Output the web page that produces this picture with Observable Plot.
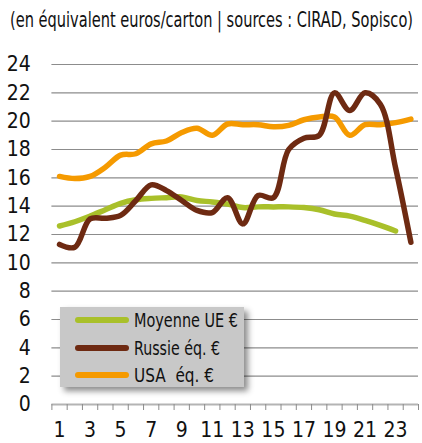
<!DOCTYPE html>
<html><head><meta charset="utf-8">
<script src="https://cdn.jsdelivr.net/npm/d3@7"></script>
<script src="https://cdn.jsdelivr.net/npm/@observablehq/plot@0.6"></script>
<style>
body{margin:0;background:#fff;font-family:"DejaVu Sans",sans-serif;font-stretch:condensed;}
#wrap{position:relative;width:422px;height:443px;overflow:hidden;}
#title{position:absolute;left:10px;top:0;height:40px;font-size:21px;line-height:40px;color:#111;white-space:nowrap;transform-origin:0 50%;}
#chart{position:absolute;left:0;top:40px;}
#chart text{font-stretch:condensed;}
#legend{position:absolute;left:60px;top:307px;width:184px;height:80px;background:#c8c8c8;box-shadow:4px 4px 6px rgba(0,0,0,0.45);}
.row{position:absolute;left:0;height:26px;width:184px;}
.sw{position:absolute;left:15px;top:10px;width:54px;height:6px;border-radius:3px;}
.lb{position:absolute;left:74px;top:0;font-size:20px;line-height:26px;color:#111;white-space:pre;transform-origin:0 50%;}
</style></head>
<body>
<div id="wrap">
<div id="title">(en équivalent euros/carton | sources : CIRAD, Sopisco)</div>
<div id="chart"></div>
<div id="legend"></div>
</div>
<script>
const periods = d3.range(1, 25);
const seriesNames = ["Moyenne UE €", "Russie éq. €", "USA  éq. €"];
const seriesColors = ["#a9c02a", "#6e2a12", "#f59a00"];
const ue = [12.6, 12.9, 13.3, 13.75, 14.2, 14.45, 14.55, 14.6, 14.65, 14.4, 14.3, 14.15, 13.9, 13.95, 13.95, 13.95, 13.9, 13.75, 13.45, 13.3, 13.0, 12.65, 12.25, null];
const russie = [11.3, 11.1, 13.1, 13.15, 13.35, 14.4, 15.5, 15.1, 14.4, 13.7, 13.55, 14.6, 12.75, 14.75, 14.6, 18.0, 18.8, 19.0, 22.0, 20.75, 22.0, 21.2, 16.7, 11.45];
const usa = [16.1, 15.95, 16.1, 16.75, 17.6, 17.7, 18.4, 18.6, 19.2, 19.5, 19.0, 19.8, 19.75, 19.75, 19.6, 19.7, 20.1, 20.3, 20.3, 19.0, 19.75, 19.75, 19.9, 20.15];
const yTicks = d3.range(0, 25, 2);
const xLabels = d3.range(1, 24, 2);
const xTickMarks = d3.range(0.5, 25, 1);

const seriesValues = [ue, russie, usa];
const data = [];
seriesValues.forEach((vals, s) => vals.forEach((v, i) => { if (v != null) data.push({series: seriesNames[s], x: periods[i], y: v}); }));

const font = '"DejaVu Sans",sans-serif';
const plot = Plot.plot({
  width: 422, height: 403,
  marginLeft: 51.4, marginRight: 4, marginTop: 24, marginBottom: 39,
  style: {fontFamily: font, fontSize: "21px", color: "#111", background: "transparent"},
  x: {domain: [0.5, 24.5], label: null},
  y: {domain: [0, 24], label: null},
  marks: [
    Plot.ruleY(yTicks.filter(d => d > 0), {stroke: "#8c8c8c", strokeWidth: 1.2}),
    Plot.ruleY([0], {stroke: "#b4b4b4", strokeWidth: 2}),
    Plot.axisY({ticks: yTicks, tickSize: 0, tickPadding: 21, tickFormat: d => d, fontSize: 21, label: null}),
    Plot.axisX({ticks: xTickMarks, tickFormat: () => "", tickSize: 6, stroke: "#8c8c8c", label: null}),
    Plot.axisX({ticks: xLabels, tickSize: 0, tickPadding: 18, tickFormat: d => d, fontSize: 21, label: null}),
    Plot.line(data.filter(d => d.series === seriesNames[0]), {x: "x", y: "y", stroke: seriesColors[0], strokeWidth: 5.5, curve: "catmull-rom"}),
    Plot.line(data.filter(d => d.series === seriesNames[2]), {x: "x", y: "y", stroke: seriesColors[2], strokeWidth: 5.5, curve: "catmull-rom"}),
    Plot.line(data.filter(d => d.series === seriesNames[1]), {x: "x", y: "y", stroke: seriesColors[1], strokeWidth: 5.5, curve: "catmull-rom"})
  ]
});
document.getElementById("chart").appendChild(plot);

const leg = document.getElementById("legend");
const legendWidths = [104, 86, 80];
seriesNames.forEach((n, i) => {
  const r = document.createElement("div");
  r.className = "row";
  r.style.top = (i * 27.5) + "px";
  r.innerHTML = `<div class="sw" style="background:${seriesColors[i]}"></div><div class="lb"></div>`;
  const lb = r.querySelector(".lb");
  lb.textContent = n;
  leg.appendChild(r);
  const w = lb.getBoundingClientRect().width;
  lb.style.transform = `scaleX(${legendWidths[i] / w})`;
});
const t = document.getElementById("title");
t.style.transform = `scaleX(${403 / t.getBoundingClientRect().width})`;
</script>
</body></html>
